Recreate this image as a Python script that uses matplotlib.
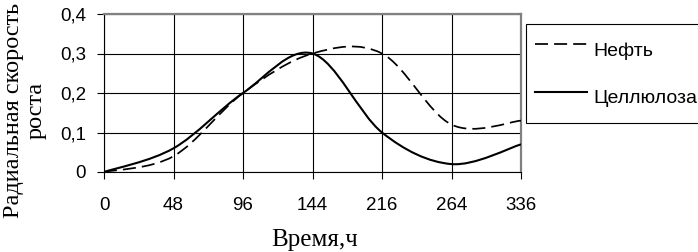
import matplotlib
matplotlib.use("Agg")
import matplotlib.pyplot as plt
from matplotlib.path import Path
from matplotlib.patches import PathPatch
from matplotlib.lines import Line2D

# data (x axis is categorical, equally spaced)
hours = ["0", "48", "96", "144", "216", "264", "336"]
neft = [0.0, 0.04, 0.2, 0.3, 0.3, 0.12, 0.13]
cellulose = [0.0, 0.06, 0.2, 0.3, 0.1, 0.02, 0.07]
y_ticks = [0, 0.1, 0.2, 0.3, 0.4]
y_tick_labels = ["0", "0,1", "0,2", "0,3", "0,4"]

SANS = "Liberation Sans"
SERIF = "Liberation Serif"


def smooth_path(ys):
    # Excel-style smoothed line: cubic Bezier through every point
    xs = list(range(len(ys)))
    n = len(xs)
    verts = [(xs[0], ys[0])]
    codes = [Path.MOVETO]
    for i in range(n - 1):
        a = i - 1 if i > 0 else i
        b = i + 2 if i + 2 < n else i + 1
        c1 = (xs[i] + (xs[i + 1] - xs[a]) / 6, ys[i] + (ys[i + 1] - ys[a]) / 6)
        c2 = (xs[i + 1] - (xs[b] - xs[i]) / 6, ys[i + 1] - (ys[b] - ys[i]) / 6)
        verts += [c1, c2, (xs[i + 1], ys[i + 1])]
        codes += [Path.CURVE4] * 3
    return Path(verts, codes)


fig = plt.figure(figsize=(6.98, 2.52), dpi=100)
W, H = 698, 252
ax = fig.add_axes([104 / W, 1 - 172 / H, (521 - 104) / W, (172 - 14) / H])

ax.set_xlim(0, len(hours) - 1)
ax.set_ylim(0, 0.4)

dash = (0, (7.5, 3.5))
ax.add_patch(PathPatch(smooth_path(neft), fill=False, edgecolor="black",
                       lw=1.25, linestyle=dash, zorder=3))
ax.add_patch(PathPatch(smooth_path(cellulose), fill=False, edgecolor="black",
                       lw=1.5, zorder=3))

ax.set_xticks(range(len(hours)))
ax.set_xticklabels(hours, fontfamily=SANS, fontsize=13.5)
ax.set_yticks(y_ticks)
ax.set_yticklabels(y_tick_labels, fontfamily=SANS, fontsize=13.5)
ax.tick_params(axis="x", length=5, width=0.8, pad=13)
ax.tick_params(axis="y", length=5, width=0.8, pad=8)
ax.grid(True, color="black", lw=0.8)
ax.set_axisbelow(True)

for side in ("left", "bottom"):
    ax.spines[side].set_color("black")
    ax.spines[side].set_linewidth(0.8)
for side in ("top", "right"):
    ax.spines[side].set_color("#808080")
    ax.spines[side].set_linewidth(1.6)

fig.text(315 / W, 1 - 240 / H, "Время,ч", family=SERIF, fontsize=18,
         ha="center", va="center")
fig.text(25 / W, 1 - 110 / H, "Радиальная скорость\nроста", family=SERIF,
         fontsize=17.5, rotation=90, ha="center", va="center",
         multialignment="center", linespacing=1.07)

handles = [Line2D([], [], color="black", lw=1.25, linestyle=dash),
           Line2D([], [], color="black", lw=1.5)]
leg = fig.legend(handles, ["Нефть", "Целлюлоза"], loc="upper left",
                 bbox_to_anchor=(526 / W, 1 - 24 / H), frameon=True,
                 fancybox=False, edgecolor="black", framealpha=1,
                 prop={"family": SANS, "size": 14}, handlelength=2.7,
                 handletextpad=0.3, labelspacing=0.7, borderpad=0.45,
                 handleheight=2.3, borderaxespad=0)
leg.get_frame().set_linewidth(0.8)

fig.savefig("out.png", dpi=100)
